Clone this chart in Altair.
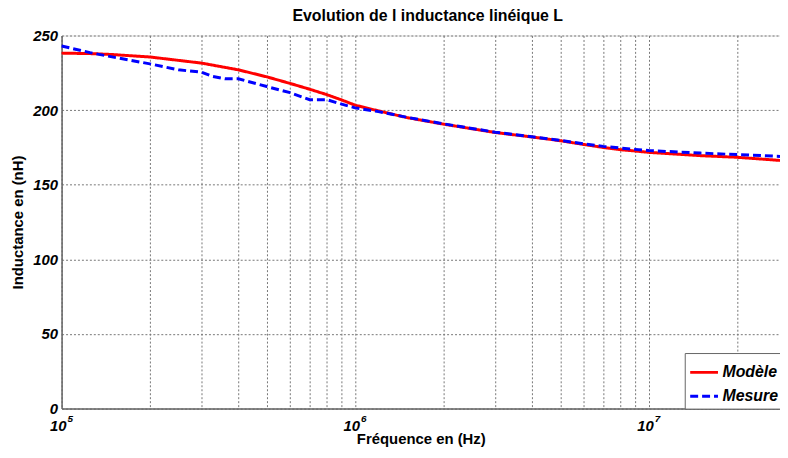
import altair as alt
import pandas as pd

freq_modele = [1e5, 1.3e5, 1.5e5, 2e5, 3e5, 4e5, 5e5, 6e5, 7e5, 8e5, 9e5, 1e6, 1.2e6, 1.5e6, 2e6, 3e6, 4e6, 5e6, 6e6, 7e6, 8e6, 9e6, 1e7, 1.5e7, 2e7, 2.8e7]
modele = [238.2, 237.8, 237.2, 235.6, 231.5, 227.0, 222.3, 217.9, 214.0, 210.4, 206.8, 203.3, 199.5, 195.0, 190.6, 185.0, 182.0, 179.5, 177.0, 175.0, 173.5, 172.6, 171.7, 169.5, 168.4, 166.3]
freq_mesure = [1e5, 1.25e5, 1.5e5, 2e5, 2.5e5, 3e5, 3.25e5, 3.6e5, 4e5, 5e5, 6e5, 7e5, 8e5, 9e5, 1e6, 1.2e6, 1.5e6, 2e6, 3e6, 4e6, 5e6, 6e6, 7e6, 8e6, 9e6, 1e7, 1.5e7, 2e7, 2.8e7]
mesure = [243.0, 238.5, 235.5, 231.0, 227.0, 225.4, 222.7, 221.0, 221.0, 215.8, 211.7, 207.0, 207.0, 204.0, 201.5, 199.0, 195.2, 190.8, 185.2, 182.2, 179.7, 177.4, 175.7, 174.6, 173.7, 172.9, 171.2, 170.2, 169.0]
series = ["Modèle", "Mesure"]
x_ticks = [m * 10 ** e for e in (5, 6) for m in range(1, 10)] + [1e7, 2e7]
y_ticks = [0, 50, 100, 150, 200, 250]
decades = [1e5, 1e6, 1e7]
decade_base = ["10", "10", "10"]
decade_exp = ["5", "6", "7"]

rows = [{"f": f, "L": v, "s": series[0]} for f, v in zip(freq_modele, modele)]
rows += [{"f": f, "L": v, "s": series[1]} for f, v in zip(freq_mesure, mesure)]
df = pd.DataFrame(rows)
dec_df = pd.DataFrame({"f": decades, "base": decade_base, "exp": decade_exp})

FONT = "Liberation Sans"
xscale = alt.Scale(type="log", domain=[1e5, 2.8e7], nice=False)

lines = alt.Chart(df).mark_line(strokeWidth=3).encode(
    x=alt.X("f:Q", scale=xscale,
            axis=alt.Axis(values=x_ticks, labels=False,
                          title="Fréquence en (Hz)", titleFont=FONT, titleFontSize=15,
                          titleFontWeight="bold", titleColor="black", titlePadding=23,
                          ticks=False, grid=True, gridDash=[2, 2], gridColor="#777",
                          gridOpacity=1, domainColor="#666", domainWidth=1.5)),
    y=alt.Y("L:Q",
            scale=alt.Scale(domain=[0, 250], nice=False),
            axis=alt.Axis(values=y_ticks, title="Inductance en (nH)", titleFont=FONT,
                          titleFontSize=15, titleFontWeight="bold", titleColor="black",
                          titlePadding=7,
                          labelFont=FONT, labelFontSize=15, labelFontWeight="bold",
                          labelFontStyle="italic", labelColor="black", labelPadding=4,
                          ticks=False, grid=True, gridDash=[2, 2], gridColor="#777",
                          gridOpacity=1, domainColor="#666", domainWidth=1.5)),
    color=alt.Color("s:N", scale=alt.Scale(domain=series, range=["#ff0000", "#0000ff"]),
                    sort=series,
                    legend=alt.Legend(title=None, orient="none", legendX=628, legendY=320,
                                      symbolType="stroke", symbolSize=784,
                                      symbolStrokeWidth=3, labelFont=FONT,
                                      labelFontSize=16, labelFontWeight="bold",
                                      labelFontStyle="italic", labelColor="black",
                                      strokeColor="#666", fillColor="white",
                                      padding=4, rowPadding=0, labelOffset=3)),
    strokeDash=alt.StrokeDash("s:N", scale=alt.Scale(domain=series, range=[[1, 0], [8, 4]]),
                              sort=series, legend=None),
    detail="s:N",
)

base_lbl = alt.Chart(dec_df).mark_text(
    align="right", baseline="alphabetic", dx=5, font=FONT, fontSize=15,
    fontWeight="bold", fontStyle="italic", color="black"
).encode(x=alt.X("f:Q", scale=xscale), y=alt.value(399), text="base:N")

exp_lbl = alt.Chart(dec_df).mark_text(
    align="left", baseline="alphabetic", dx=6, font=FONT, fontSize=10,
    fontWeight="bold", fontStyle="italic", color="black"
).encode(x=alt.X("f:Q", scale=xscale), y=alt.value(389), text="exp:N")

chart = alt.layer(lines, base_lbl, exp_lbl).properties(
    width=724, height=376,
    title=alt.TitleParams("Evolution de l inductance linéique L", font=FONT, fontSize=16,
                          fontWeight="bold", color="black", offset=5, dx=7),
    padding={"left": 54, "top": 26, "right": 0, "bottom": 40},
    autosize="none",
).configure_view(stroke="#888", strokeWidth=1.5).configure(background="white")

chart.save("out.html", embed_options={"renderer": "svg", "actions": False})
